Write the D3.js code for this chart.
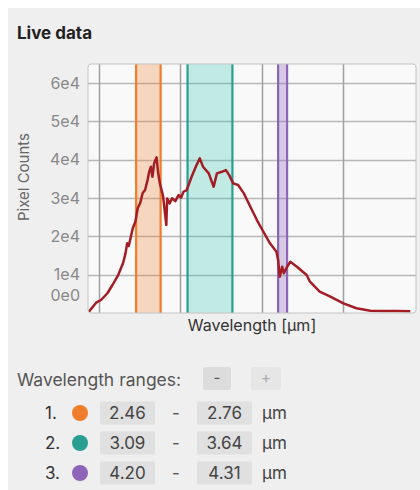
<!DOCTYPE html>
<html>
<head>
<meta charset="utf-8">
<script src="https://cdn.jsdelivr.net/npm/d3@7"></script>
<style>
  body { margin: 0; background: #fff; font-family: Inter, "Noto Sans", sans-serif; }
</style>
</head>
<body>
<div id="chart"></div>
<script>
// spectrum (wavelength in µm, pixel counts)
var wavelength = [1.88, 1.97, 2.03, 2.11, 2.17, 2.24, 2.30, 2.33, 2.35, 2.37, 2.40, 2.42, 2.45, 2.48, 2.51, 2.54,
  2.57, 2.60, 2.62, 2.64, 2.66, 2.68, 2.71, 2.73, 2.75, 2.79, 2.83, 2.84, 2.87, 2.90, 2.94, 2.98, 3.01, 3.04,
  3.08, 3.14, 3.20, 3.24, 3.28, 3.35, 3.41, 3.45, 3.51, 3.56, 3.60, 3.65, 3.71, 3.78, 3.86, 3.94,
  4.02, 4.10, 4.18, 4.20, 4.22, 4.25, 4.27, 4.31, 4.35, 4.43, 4.55, 4.59, 4.71, 4.84, 5.00, 5.16,
  5.33, 5.49, 5.65, 5.82];
var counts = [340, 2690, 3390, 5220, 7310, 9910, 13040, 15570, 18180, 17480, 20350, 22180, 23820, 27390, 28700, 31310,
  32090, 34700, 36860, 38170, 35560, 39060, 40620, 36530, 33900, 30530, 22960, 29920, 28600, 29940, 29200, 30790, 30100, 31650,
  32090, 35560, 38610, 40360, 38170, 36450, 32950, 36450, 36860, 37310, 36000, 33840, 33400, 31230, 27730, 24260,
  21210, 18180, 15990, 13830, 9470, 12080, 10360, 12080, 13380, 12080, 9910, 8170, 5560, 4250, 2530, 1230,
  600, 520, 520, 440];

var yTicks = [0, 10000, 20000, 30000, 40000, 50000, 60000];
var xTicks = [2, 3, 4, 5];

// wavelength ranges
var rangeStart = [2.46, 3.09, 4.20];
var rangeEnd = [2.76, 3.64, 4.31];
var rangeColors = ["#ef7d2a", "#2a9e90", "#8d64b8"];
var rangeFills = ["rgba(239,125,42,0.28)", "rgba(52,196,180,0.28)", "rgba(141,100,184,0.32)"];

var W = 420, H = 490;
var margin = { top: 64, right: 4, bottom: 177, left: 88 };
var plotW = W - margin.left - margin.right;
var plotH = H - margin.top - margin.bottom;

var svg = d3.select("#chart").append("svg")
  .attr("width", W)
  .attr("height", H);

// grey panel
svg.append("rect")
  .attr("x", 8).attr("y", 8)
  .attr("width", W - 8).attr("height", H - 8)
  .attr("fill", "#efefef");

svg.append("text")
  .attr("x", 17).attr("y", 39)
  .attr("font-size", "17px")
  .attr("font-weight", "700")
  .attr("fill", "#222")
  .text("Live data");

var x = d3.scaleLinear().domain([1.87, 5.89]).range([0, plotW]);
var y = d3.scaleLinear().domain([0, 65000]).range([plotH, 0]);

var g = svg.append("g")
  .attr("transform", `translate(${margin.left}, ${margin.top})`);

g.append("clipPath").attr("id", "clip")
  .append("rect").attr("width", plotW).attr("height", plotH);

g.append("rect")
  .attr("width", plotW).attr("height", plotH)
  .attr("rx", 3)
  .attr("fill", "#f9f9f9");

// horizontal grid as one path
var hGrid = yTicks.filter(d => d > 0)
  .map(d => "M0," + (Math.round(y(d)) + 0.5) + "H" + plotW).join("");
g.append("path")
  .attr("d", hGrid)
  .attr("fill", "none")
  .attr("stroke", "#b8b8b8")
  .attr("stroke-width", 1.5);

// vertical grid
var vGrid = xTicks
  .map(d => "M" + (Math.round(x(d)) + 0.5) + ",0V" + plotH).join("");
g.append("path")
  .attr("d", vGrid)
  .attr("fill", "none")
  .attr("stroke", "#a0a0a0")
  .attr("stroke-width", 1.5);

// tick labels
var yAxis = g.append("g")
  .call(d3.axisLeft(y).tickValues(yTicks).tickSize(0).tickPadding(8)
    .tickFormat(d => d === 0 ? "0e0" : (d / 10000) + "e4"));
yAxis.select(".domain").remove();
yAxis.selectAll("text")
  .attr("font-family", "Inter, sans-serif")
  .attr("font-size", "16px")
  .attr("fill", "#888");
// the zero label sits inside the plot, above the bottom edge
yAxis.selectAll(".tick").filter(d => d === 0).select("text").attr("y", -18);

// range bands
var bands = g.append("g").attr("clip-path", "url(#clip)");
rangeStart.forEach(function (s, i) {
  var e = rangeEnd[i];
  bands.append("rect")
    .attr("x", x(s)).attr("y", 0)
    .attr("width", x(e) - x(s)).attr("height", plotH)
    .attr("fill", rangeFills[i]);
  [s, e].forEach(function (v) {
    bands.append("line")
      .attr("x1", x(v)).attr("x2", x(v))
      .attr("y1", 0).attr("y2", plotH)
      .attr("stroke", rangeColors[i])
      .attr("stroke-width", 2.2);
  });
});

var line = d3.line()
  .x((d, i) => x(wavelength[i]))
  .y(d => y(d));

g.append("path")
  .datum(counts)
  .attr("clip-path", "url(#clip)")
  .attr("d", line)
  .attr("fill", "none")
  .attr("stroke", "#a31d24")
  .attr("stroke-width", 2.5)
  .attr("stroke-linejoin", "round");

g.append("rect")
  .attr("width", plotW).attr("height", plotH)
  .attr("rx", 3)
  .attr("fill", "none")
  .attr("stroke", "#c4c4c4");

// axis titles
svg.append("text")
  .attr("transform", "translate(29, 177) rotate(-90)")
  .attr("text-anchor", "middle")
  .attr("font-size", "15px")
  .attr("fill", "#666")
  .text("Pixel Counts");

svg.append("text")
  .attr("x", margin.left + plotW / 2).attr("y", 331)
  .attr("text-anchor", "middle")
  .attr("font-size", "16px")
  .attr("fill", "#333")
  .text("Wavelength [µm]");

// controls below the plot
svg.append("text")
  .attr("x", 17).attr("y", 386)
  .attr("font-size", "17.5px")
  .attr("fill", "#555")
  .text("Wavelength ranges:");

var btns = [{ label: "-", x: 203, w: 28, fill: "#dcdcdc", color: "#555" },
            { label: "+", x: 251, w: 30, fill: "#e6e6e6", color: "#aaa" }];
btns.forEach(function (b) {
  svg.append("rect")
    .attr("x", b.x).attr("y", 367).attr("width", b.w).attr("height", 23)
    .attr("rx", 2).attr("fill", b.fill);
  svg.append("text")
    .attr("x", b.x + b.w / 2).attr("y", 383)
    .attr("text-anchor", "middle")
    .attr("font-size", "15px")
    .attr("fill", b.color)
    .text(b.label);
});

var rows = svg.append("g");
rangeStart.forEach(function (s, i) {
  var cy = 413 + i * 30;
  var r = rows.append("g").attr("font-size", "17px");
  r.append("text").attr("x", 45).attr("y", cy + 6).attr("fill", "#333").text((i + 1) + ".");
  r.append("circle").attr("cx", 80).attr("cy", cy).attr("r", 8).attr("fill", rangeColors[i]);
  [[100, s], [197, rangeEnd[i]]].forEach(function (p) {
    r.append("rect").attr("x", p[0]).attr("y", cy - 11.5).attr("width", 55).attr("height", 23)
      .attr("rx", 2).attr("fill", "#e0e0e0");
    r.append("text").attr("x", p[0] + 27.5).attr("y", cy + 6)
      .attr("text-anchor", "middle").attr("fill", "#444")
      .text(d3.format(".2f")(p[1]));
  });
  r.append("text").attr("x", 176).attr("y", cy + 6).attr("text-anchor", "middle")
    .attr("fill", "#555").text("-");
  r.append("text").attr("x", 262).attr("y", cy + 6).attr("fill", "#444").text("µm");
});
</script>
</body>
</html>
